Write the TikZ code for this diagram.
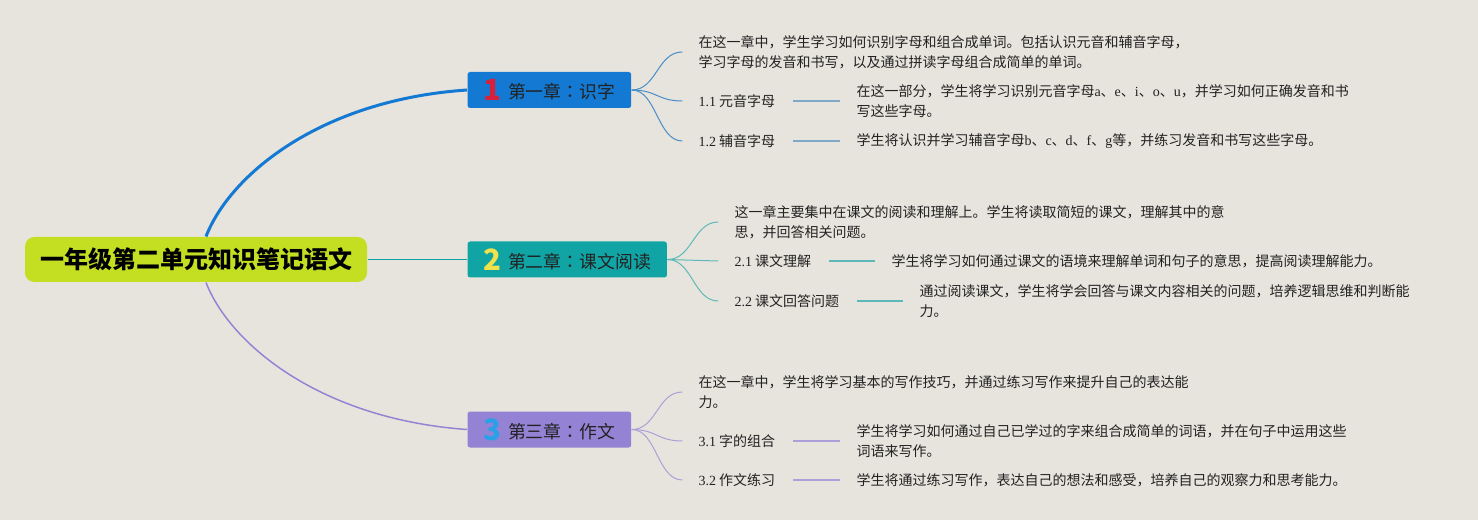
\documentclass[tikz,border=0pt]{standalone}
\usepackage{fontspec}
\setmainfont{Noto Sans CJK SC}
\newfontfamily\latinfont{Liberation Serif}
\newfontfamily\colonfont{Noto Sans CJK TC}
\newcommand{\lt}[1]{{\latinfont #1}}
\newcommand{\chcolon}{{\colonfont ：}}
\definecolor{bgcol}{HTML}{E7E4DD}
\definecolor{rootcol}{HTML}{C4DF22}
\definecolor{chonecol}{HTML}{1479D3}
\definecolor{chtwocol}{HTML}{11A4A5}
\definecolor{chthreecol}{HTML}{9482D4}
\definecolor{bronecol}{HTML}{4A8DC8}
\definecolor{subonecol}{HTML}{80A9C9}
\definecolor{brtwocol}{HTML}{5DB9B9}
\definecolor{brthreecol}{HTML}{ABA0DA}
\definecolor{numonecol}{HTML}{D9203B}
\definecolor{numtwocol}{HTML}{F0E24A}
\definecolor{numthreecol}{HTML}{2AA0E6}
\definecolor{inkcol}{HTML}{222222}
\tikzset{every picture/.style={line width=0.75pt}}
\tikzset{
  rootbox/.style={fill=rootcol,rounded corners=7pt,minimum width=256.5pt,minimum height=33.75pt,inner sep=0pt,font=\fontsize{18}{20}\selectfont\bfseries,text=black},
  chapbox/.style={rounded corners=2pt,minimum height=27pt,inner xsep=12pt,inner ysep=0pt,anchor=west,font=\fontsize{13.4}{16}\selectfont,text=inkcol},
  note/.style={anchor=west,inner sep=0.75pt,align=left,font=\fontsize{10.5}{15}\selectfont,text=inkcol}
}
\newcommand{\chnum}[2]{\raisebox{-1.5pt}{\fontsize{22}{22}\selectfont\bfseries\color{#1}#2}\hspace{5pt}}

\begin{document}
\begin{tikzpicture}[x=0.75pt,y=0.75pt,yscale=-1,xscale=1]
\fill[bgcol] (0,0) rectangle (1478,520);
\useasboundingbox (0,0) rectangle (1478,520);

% Root Node
\node[rootbox] (root) at (196,259.5) {一年级第二单元知识笔记语文};

% Chapter Nodes
\node[chapbox,fill=chonecol] (ch1) at (467,90) {\chnum{numonecol}{1}第一章\chcolon 识字};
\node[chapbox,fill=chtwocol] (ch2) at (467,259.5) {\chnum{numtwocol}{2}第二章\chcolon 课文阅读};
\node[chapbox,fill=chthreecol] (ch3) at (467,429.5) {\chnum{numthreecol}{3}第三章\chcolon 作文};

% Text Node
\node[note] (t1intro) at (697,52) {在这一章中，学生学习如何识别字母和组合成单词。包括认识元音和辅音字母，\\学习字母的发音和书写，以及通过拼读字母组合成简单的单词。};
\node[note] (t11) at (697,101) {\lt{1.1} 元音字母};
\node[note] (t11d) at (855,101) {在这一部分，学生将学习识别元音字母\lt{a}、\lt{e}、\lt{i}、\lt{o}、\lt{u}，并学习如何正确发音和书\\写这些字母。};
\node[note] (t12) at (697,141) {\lt{1.2} 辅音字母};
\node[note] (t12d) at (855,141) {学生将认识并学习辅音字母\lt{b}、\lt{c}、\lt{d}、\lt{f}、\lt{g}等，并练习发音和书写这些字母。};

% Text Node
\node[note] (t2intro) at (733,222) {这一章主要集中在课文的阅读和理解上。学生将读取简短的课文，理解其中的意\\思，并回答相关问题。};
\node[note] (t21) at (733,261) {\lt{2.1} 课文理解};
\node[note] (t21d) at (890,261) {学生将学习如何通过课文的语境来理解单词和句子的意思，提高阅读理解能力。};
\node[note] (t22) at (733,301) {\lt{2.2} 课文回答问题};
\node[note] (t22d) at (918,301) {通过阅读课文，学生将学会回答与课文内容相关的问题，培养逻辑思维和判断能\\力。};

% Text Node
\node[note] (t3intro) at (697,392) {在这一章中，学生将学习基本的写作技巧，并通过练习写作来提升自己的表达能\\力。};
\node[note] (t31) at (697,441) {\lt{3.1} 字的组合};
\node[note] (t31d) at (855,441) {学生将学习如何通过自己已学过的字来组合成简单的词语，并在句子中运用这些\\词语来写作。};
\node[note] (t32) at (697,480) {\lt{3.2} 作文练习};
\node[note] (t32d) at (855,480) {学生将通过练习写作，表达自己的想法和感受，培养自己的观察力和思考能力。};

%Curve Lines
\draw[chonecol,line width=2.25pt] ([xshift=7.5pt]root.north) .. controls (230,175) and (320,100) .. (ch1.west);
\draw[chthreecol,line width=1.1pt] ([xshift=7.5pt]root.south) .. controls (230,344) and (320,419) .. (ch3.west);
%Straight Lines
\draw[chtwocol,line width=1.1pt] (root.east) -- (ch2.west);

%Curve Lines
\draw[bronecol] (ch1.east) .. controls +(25,0) and +(-25,0) .. ([xshift=-11pt]t1intro.west);
\draw[bronecol] (ch1.east) .. controls +(25,0) and +(-25,0) .. ([xshift=-11pt]t11.west);
\draw[bronecol] (ch1.east) .. controls +(25,0) and +(-25,0) .. ([xshift=-11pt]t12.west);
\draw[brtwocol] (ch2.east) .. controls +(25,0) and +(-25,0) .. ([xshift=-11pt]t2intro.west);
\draw[brtwocol] (ch2.east) .. controls +(25,0) and +(-25,0) .. ([xshift=-11pt]t21.west);
\draw[brtwocol] (ch2.east) .. controls +(25,0) and +(-25,0) .. ([xshift=-11pt]t22.west);
\draw[brthreecol] (ch3.east) .. controls +(25,0) and +(-25,0) .. ([xshift=-11pt]t3intro.west);
\draw[brthreecol] (ch3.east) .. controls +(25,0) and +(-25,0) .. ([xshift=-11pt]t31.west);
\draw[brthreecol] (ch3.east) .. controls +(25,0) and +(-25,0) .. ([xshift=-11pt]t32.west);

%Straight Lines
\draw[subonecol,line width=1.1pt,shorten <=12pt,shorten >=11pt] (t11) -- (t11d);
\draw[subonecol,line width=1.1pt,shorten <=12pt,shorten >=11pt] (t12) -- (t12d);
\draw[brtwocol,line width=1.1pt,shorten <=12pt,shorten >=11pt] (t21) -- (t21d);
\draw[brtwocol,line width=1.1pt,shorten <=12pt,shorten >=11pt] (t22) -- (t22d);
\draw[brthreecol,line width=1.1pt,shorten <=12pt,shorten >=11pt] (t31) -- (t31d);
\draw[brthreecol,line width=1.1pt,shorten <=12pt,shorten >=11pt] (t32) -- (t32d);

\end{tikzpicture}
\end{document}
